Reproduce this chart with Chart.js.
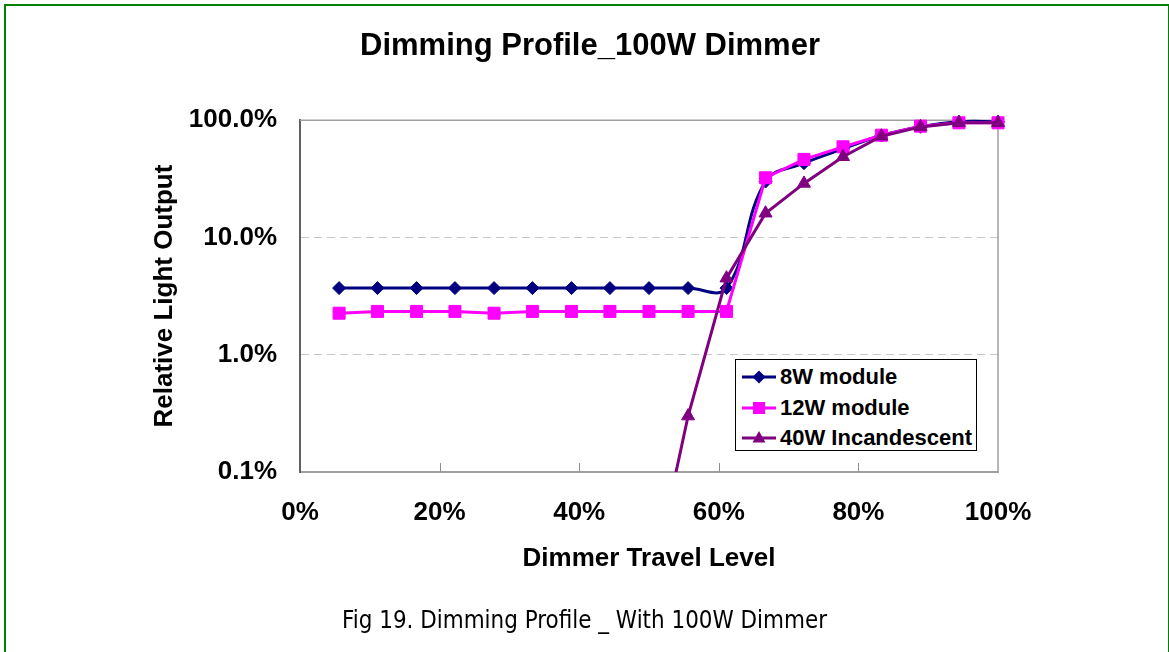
<!DOCTYPE html>
<html><head><meta charset="utf-8">
<script src="https://cdn.jsdelivr.net/npm/chart.js@4/dist/chart.umd.min.js"></script>
<style>
html,body{margin:0;padding:0;background:#fff;overflow:hidden;}
#wrap{position:relative;width:1169px;height:652px;overflow:hidden;background:#fff;}
#frame{position:absolute;left:4px;top:4px;width:1166px;height:700px;border:2px solid #008000;box-sizing:border-box;pointer-events:none;}
canvas{position:absolute;left:0;top:0;}
#legend{position:absolute;left:735px;top:359px;width:242px;height:92px;border:1px solid #000;box-sizing:border-box;background:#fff;padding:2px 0 0 6px;font:bold 22px 'Liberation Sans',Arial,sans-serif;color:#000;}
.row{height:30.5px;display:flex;align-items:center;white-space:nowrap;}
.row svg{width:34px;height:20px;margin-right:4px;flex:none;}
#caption{position:absolute;top:607.5px;left:342px;font:24px 'DejaVu Sans',Tahoma,sans-serif;line-height:24px;white-space:nowrap;transform-origin:0 0;color:#000;}
</style></head>
<body><div id="wrap"><canvas id="c" width="1169" height="652"></canvas><div id="legend"></div><div id="caption">Fig 19. Dimming Profile _ With 100W Dimmer</div><div id="frame"></div></div>
<script>
const chartTitle = 'Dimming Profile_100W Dimmer';
const xTitle = 'Dimmer Travel Level';
const yTitle = 'Relative Light Output';
const dimmerLevels = [5.6, 11.1, 16.7, 22.2, 27.8, 33.3, 38.9, 44.4, 50.0, 55.6, 61.1, 66.7, 72.2, 77.8, 83.3, 88.9, 94.4, 100];
const module8W = [3.7, 3.7, 3.7, 3.7, 3.7, 3.7, 3.7, 3.7, 3.7, 3.7, 3.7, 30, 43, 57, 74, 88, 97, 97];
const module12W = [2.26, 2.34, 2.34, 2.34, 2.26, 2.34, 2.34, 2.34, 2.34, 2.34, 2.34, 32.3, 46.3, 59.3, 74.5, 89, 95, 95];
const incandescent40W = [null, null, null, null, null, null, null, null, 0.0085, 0.30, 4.5, 16.1, 28.9, 48.8, 73, 87.7, 95, 95];
const seriesNames = ['8W module', '12W module', '40W Incandescent'];
const xTicks = [0, 20, 40, 60, 80, 100];
const xTickLabels = ['0%', '20%', '40%', '60%', '80%', '100%'];
const yTicks = [0.1, 1, 10, 100];
const yTickLabels = ['0.1%', '1.0%', '10.0%', '100.0%'];

const seriesValues = [module8W, module12W, incandescent40W];
const colors = ['#000080', '#FF00FF', '#800080'];
const pointStyles = ['rectRot', 'rect', 'triangle'];
const pointRadii = [6.5, 8.5, 7.5];
const tensions = [0.4, 0, 0];
const orders = [2, 1, 0];
const FONT = "'Liberation Sans', Arial, sans-serif";

const datasets = seriesNames.map((name, i) => ({
  label: name,
  data: dimmerLevels.map((x, j) => ({x: x, y: seriesValues[i][j]})),
  borderColor: colors[i],
  backgroundColor: colors[i],
  borderWidth: 3,
  pointStyle: pointStyles[i],
  pointRadius: pointRadii[i],
  pointHoverRadius: pointRadii[i],
  pointBorderWidth: 1,
  tension: tensions[i],
  order: orders[i],
  spanGaps: false,
  clip: {left: 12, top: 12, right: 12, bottom: 0}
}));

const framePlugin = {
  id: 'framePlugin',
  beforeDatasetsDraw(chart) {
    const {ctx, chartArea: a, scales} = chart;
    ctx.save();
    ctx.strokeStyle = '#a0a0a0';
    ctx.lineWidth = 1.5;
    ctx.beginPath();
    ctx.moveTo(a.left, a.top);
    ctx.lineTo(a.right, a.top);
    ctx.lineTo(a.right, a.bottom);
    ctx.stroke();
    ctx.strokeStyle = '#909090';
    ctx.lineWidth = 1;
    xTicks.slice(1, -1).forEach(v => {
      const px = Math.round(scales.x.getPixelForValue(v)) + 0.5;
      ctx.beginPath();
      ctx.moveTo(px, a.bottom);
      ctx.lineTo(px, a.bottom - 9);
      ctx.stroke();
    });
    ctx.restore();
  }
};

new Chart(document.getElementById('c'), {
  type: 'line',
  data: {datasets: datasets},
  plugins: [framePlugin],
  options: {
    responsive: false,
    animation: false,
    events: [],
    layout: {padding: {left: 145, right: 134, top: 0, bottom: 60}},
    plugins: {
      legend: {display: false},
      tooltip: {enabled: false},
      title: {
        display: true,
        text: chartTitle,
        color: '#000',
        font: {family: FONT, size: 31, weight: 'bold'},
        padding: {top: 28, bottom: 55}
      }
    },
    scales: {
      x: {
        type: 'linear',
        min: 0, max: 100,
        afterBuildTicks: s => { s.ticks = xTicks.map(v => ({value: v})); },
        afterFit: s => { s.height = 120; },
        ticks: {
          autoSkip: false, maxRotation: 0, padding: 25, color: '#000',
          font: {family: FONT, size: 26, weight: 'bold'},
          callback: (v) => xTickLabels[xTicks.indexOf(v)]
        },
        grid: {display: false, drawTicks: false},
        border: {display: true, color: '#a0a0a0', width: 2},
        title: {display: true, text: xTitle, color: '#000', font: {family: FONT, size: 26, weight: 'bold'}, padding: {top: 0, bottom: 18}}
      },
      y: {
        type: 'logarithmic',
        position: 'left',
        min: 0.1, max: 100,
        afterBuildTicks: s => { s.ticks = yTicks.map(v => ({value: v})); },
        afterFit: s => { s.width = 155; },
        ticks: {
          autoSkip: false, padding: 23, color: '#000',
          font: {family: FONT, size: 26, weight: 'bold'},
          callback: (v) => yTickLabels[yTicks.indexOf(v)]
        },
        grid: {
          drawTicks: false,
          lineWidth: 1,
          color: c => (c.tick && (c.tick.value === 1 || c.tick.value === 10)) ? '#c8c8c8' : 'rgba(0,0,0,0)'
        },
        border: {display: true, color: '#606060', width: 2, dash: [8, 5]},
        title: {display: true, text: yTitle, color: '#000', font: {family: FONT, size: 26, weight: 'bold'}, padding: {top: 4, bottom: 0}}
      },
      y2: {
        type: 'linear',
        position: 'right',
        display: true,
        afterFit: s => { s.width = 37; },
        ticks: {display: false},
        grid: {display: false, drawTicks: false},
        border: {display: false}
      }
    }
  }
});

// HTML legend built from the series arrays
const legend = document.getElementById('legend');
function markerSvg(i) {
  const c = colors[i];
  let m = '';
  if (pointStyles[i] === 'rectRot') m = `<polygon points="10.5,10 17,3.5 23.5,10 17,16.5" fill="${c}"/>`;
  else if (pointStyles[i] === 'rect') m = `<rect x="11" y="4" width="12" height="12" fill="${c}"/>`;
  else m = `<polygon points="17,3 23.5,14.5 10.5,14.5" fill="${c}"/>`;
  return `<svg viewBox="0 0 34 20"><line x1="0" y1="10" x2="34" y2="10" stroke="${c}" stroke-width="3"/>${m}</svg>`;
}
seriesNames.forEach((n, i) => {
  const r = document.createElement('div');
  r.className = 'row';
  r.innerHTML = markerSvg(i) + '<span></span>';
  r.querySelector('span').textContent = n;
  legend.appendChild(r);
});

// fit caption to its width in the reference
const cap = document.getElementById('caption');
const w = cap.getBoundingClientRect().width;
cap.style.transform = `scaleX(${485 / w})`;
</script>
</body></html>
